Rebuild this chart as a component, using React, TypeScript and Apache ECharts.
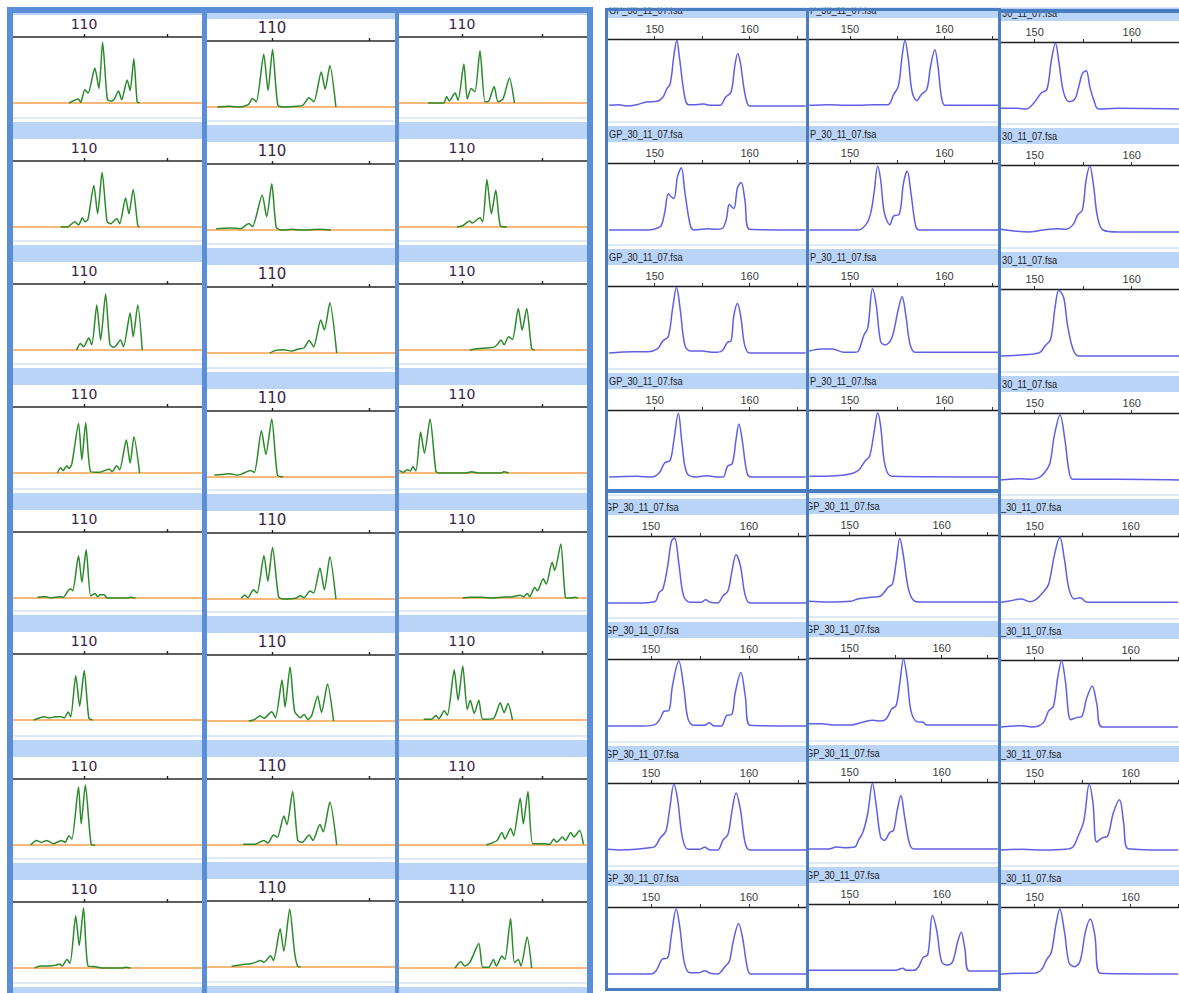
import React, { useEffect, useRef } from "react";
import * as echarts from "echarts";

// ---------- texts / ticks ----------
const fileNamesTop = ["GP_30_11_07.fsa", "P_30_11_07.fsa", "30_11_07.fsa"];
const fileNamesBottom = ["GP_30_11_07.fsa", "GP_30_11_07.fsa", "_30_11_07.fsa"];
const leftTickValues = [110, 115];
const leftLabelValues = [110];
const rightTickValues = [150, 155, 160, 165];
const rightLabelValues = [150, 160];

// ---------- green traces (size in bp, relative height %) ----------
const g11 = [[109.1,0],[109.65,6],[109.8,1],[110.05,20],[110.25,15],[110.65,53],[110.9,22],[111.12,92],[111.4,6],[111.6,3],[111.8,5],[112.08,18],[112.27,5],[112.6,35],[112.78,19],[113.0,67],[113.2,2],[113.35,0]];
const g12 = [[107.2,0],[107.8,1],[108.4,0],[108.8,4],[109.0,13],[109.2,8],[109.58,80],[109.8,25],[110.03,87],[110.3,3],[110.6,0],[111.3,1],[111.6,3],[111.9,14],[112.15,8],[112.53,53],[112.73,27],[112.97,63],[113.28,0]];
const g13 = [[107.9,0],[108.86,0],[109.05,10],[109.21,3],[109.57,15],[109.76,4],[110.12,59],[110.33,6],[110.57,22],[110.81,17],[111.12,79],[111.43,2],[111.67,3],[112.0,25],[112.24,2],[112.55,6],[112.95,38],[113.26,0]];
const g21 = [[108.6,0],[109.0,0],[109.44,8],[109.67,3],[109.9,14],[110.06,8],[110.24,12],[110.59,63],[110.82,20],[111.09,83],[111.39,8],[111.62,5],[111.97,13],[112.15,5],[112.5,44],[112.71,20],[112.96,57],[113.24,2],[113.35,0]];
const g22 = [[107.14,2],[107.8,3],[108.4,2],[108.81,10],[109.0,5],[109.5,53],[109.73,20],[109.99,70],[110.22,4],[110.48,0],[111.06,1],[111.5,0],[112.44,1],[113.03,0]];
const g23 = [[109.69,0],[110.05,2],[110.48,9],[110.64,6],[111.12,14],[111.29,8],[111.55,72],[111.83,20],[112.1,56],[112.38,2],[112.79,0]];
const g31 = [[109.55,0],[109.78,10],[109.97,5],[110.29,18],[110.47,8],[110.77,68],[111.0,15],[111.3,85],[111.56,8],[111.81,4],[112.2,15],[112.38,5],[112.78,56],[112.96,20],[113.24,68],[113.51,0]];
const g32 = [[109.89,0],[110.2,4],[110.57,5],[111.0,3],[111.36,6],[111.65,8],[111.91,19],[112.14,9],[112.5,50],[112.69,35],[112.97,76],[113.32,0]];
const g33 = [[110.5,0],[110.9,2],[111.5,3],[111.95,4],[112.19,8],[112.43,15],[112.62,8],[112.9,20],[113.14,16],[113.5,63],[113.74,30],[114.02,63],[114.33,2],[114.52,0]];
const g41 = [[108.4,0],[108.58,8],[108.74,4],[108.97,11],[109.09,7],[109.27,14],[109.67,75],[109.87,20],[110.1,76],[110.4,2],[110.93,1],[111.51,6],[111.69,2],[111.97,11],[112.15,5],[112.55,50],[112.78,15],[113.01,55],[113.35,0]];
const g42 = [[107.05,3],[107.5,4],[107.83,5],[108.2,3],[108.42,4],[108.71,8],[108.91,10],[109.1,7],[109.46,70],[109.69,34],[109.99,88],[110.28,3],[110.57,0]];
const g43 = [[106.1,4],[106.36,1],[106.6,5],[106.8,3],[106.95,10],[107.14,3],[107.43,62],[107.67,30],[108.02,82],[108.38,3],[108.57,0],[110.29,0],[110.6,2],[111.0,0],[112.43,0],[112.6,2],[112.9,0]];
const g51 = [[107.2,1],[107.5,2],[107.71,2],[108.0,0],[108.51,2],[108.75,1],[109.04,11],[109.2,14],[109.32,11],[109.67,64],[109.87,24],[110.13,73],[110.4,3],[110.66,7],[110.82,2],[110.98,5],[111.21,5],[111.39,0],[112.55,0],[112.8,1],[113.1,0]];
const g52 = [[108.42,1],[108.61,6],[108.77,2],[109.05,14],[109.24,9],[109.59,66],[109.79,27],[110.03,78],[110.34,3],[110.57,0],[111.2,1],[111.46,5],[111.65,2],[111.95,12],[112.14,9],[112.46,47],[112.69,14],[112.97,64],[113.28,0]];
const g53 = [[110.05,0],[110.5,1],[111.24,1],[112.0,0],[112.43,1],[113.14,2],[113.62,4],[113.85,2],[114.05,7],[114.21,2],[114.52,16],[114.69,11],[115.05,29],[115.24,21],[115.6,54],[115.76,42],[116.14,82],[116.43,1],[116.71,0],[117.0,1],[117.2,0]];
const g61 = [[106.97,0],[107.3,3],[107.59,5],[107.9,3],[108.28,5],[108.63,5],[108.81,3],[109.04,12],[109.2,5],[109.5,67],[109.74,21],[110.01,75],[110.29,3],[110.52,0]];
const g62 = [[108.81,0],[109.1,2],[109.4,8],[109.59,4],[109.99,14],[110.18,5],[110.52,62],[110.67,21],[110.93,82],[111.16,15],[111.46,5],[111.65,10],[111.85,2],[112.05,9],[112.34,38],[112.54,13],[112.85,56],[113.16,0]];
const g63 = [[107.62,1],[108.1,1],[108.38,7],[108.57,2],[108.9,14],[109.1,7],[109.52,76],[109.76,30],[110.05,82],[110.33,16],[110.52,30],[110.76,10],[111.05,30],[111.29,1],[111.95,2],[112.38,26],[112.62,11],[112.86,25],[113.14,0]];
const g71 = [[106.78,0],[107.13,7],[107.43,4],[107.75,7],[108.17,2],[108.63,7],[108.86,4],[109.09,14],[109.27,9],[109.67,88],[109.83,32],[110.08,91],[110.43,1],[110.66,0]];
const g72 = [[108.52,1],[109.1,1],[109.59,7],[109.79,3],[110.08,15],[110.28,12],[110.61,44],[110.77,31],[111.06,81],[111.32,7],[111.55,4],[111.91,15],[112.1,7],[112.46,31],[112.63,20],[112.97,65],[113.32,0]];
const g73 = [[111.52,0],[111.95,4],[112.19,7],[112.48,19],[112.67,9],[113.02,25],[113.21,14],[113.62,71],[113.81,32],[114.1,81],[114.4,2],[115.05,2],[115.45,1],[115.71,9],[115.88,4],[116.24,12],[116.43,7],[116.76,19],[116.95,12],[117.31,22],[117.55,1]];
const g81 = [[107.02,0],[107.36,3],[107.82,3],[108.28,4],[108.51,6],[108.68,3],[108.97,13],[109.16,7],[109.5,79],[109.71,34],[109.97,91],[110.24,3],[110.7,2],[111.05,0],[112.3,0],[112.5,1],[112.8,0]];
const g82 = [[107.93,1],[108.61,4],[108.91,5],[109.16,7],[109.4,10],[109.59,7],[109.93,17],[110.08,10],[110.42,58],[110.61,24],[110.91,88],[111.16,22],[111.32,1],[111.46,0]];
const g83 = [[109.57,0],[109.93,10],[110.17,3],[110.48,8],[111.05,37],[111.29,1],[111.67,1],[111.95,13],[112.14,3],[112.48,18],[112.67,13],[113.02,75],[113.26,8],[113.5,13],[113.67,3],[114.05,47],[114.33,0]];

// ---------- blue traces (size in bp, relative height %) ----------
const b11 = [[145.2,1],[146.19,2],[146.97,0],[148.13,2],[149.11,6],[150.27,7],[150.86,13],[151.25,25],[151.63,33],[152.02,75],[152.33,98],[152.61,72],[153.0,28],[153.3,6],[153.58,2],[154.36,2],[155.14,3],[155.91,1],[156.89,1],[157.47,13],[158.05,21],[158.44,60],[158.75,78],[159.03,64],[159.42,25],[159.75,4],[160.0,0],[165.9,0]];
const b12 = [[145.7,1],[147.77,2],[149.5,1],[150.9,1],[152.46,2],[154.02,2],[154.61,17],[155.12,30],[155.51,74],[155.82,98],[156.17,70],[156.56,22],[157.07,8],[157.54,17],[158.13,25],[158.52,59],[158.98,84],[159.3,60],[159.69,12],[160.08,1],[165.66,1]];
const b13 = [[146.5,1],[148.19,1],[149.15,0],[149.92,9],[150.69,24],[151.27,29],[151.73,73],[152.15,98],[152.5,70],[153.0,24],[153.58,11],[154.15,15],[154.54,33],[154.92,53],[155.31,57],[155.69,33],[156.08,14],[156.58,0],[158.58,1],[164.95,0]];
const b21 = [[145.2,0],[149.3,0],[150.08,2],[150.66,6],[151.05,26],[151.44,54],[151.7,50],[152.02,47],[152.41,80],[152.8,93],[153.19,55],[153.77,6],[154.16,0],[155.72,2],[156.3,1],[157.08,2],[157.55,16],[157.86,38],[158.33,32],[158.72,63],[159.11,71],[159.49,46],[160.0,1],[165.9,0]];
const b22 = [[145.7,0],[150.9,0],[151.68,8],[152.15,23],[152.54,55],[152.93,95],[153.24,75],[153.63,26],[154.22,8],[154.61,21],[155.2,23],[155.66,70],[156.05,88],[156.45,55],[156.95,6],[157.34,0],[165.66,0]];
const b23 = [[146.5,4],[148.19,1],[149.35,0],[150.88,3],[152.42,5],[153.19,4],[153.96,11],[154.42,25],[154.92,33],[155.31,78],[155.69,98],[156.08,68],[156.46,24],[157.04,3],[158.58,0],[164.95,0]];
const b31 = [[145.2,0],[147.74,2],[149.3,2],[150.27,6],[150.86,18],[151.44,25],[151.91,69],[152.3,98],[152.68,66],[153.19,11],[153.77,3],[154.94,3],[156.3,1],[157.08,3],[157.67,16],[158.05,18],[158.33,55],[158.72,74],[159.11,50],[159.49,11],[160.0,0],[165.9,0]];
const b32 = [[145.7,3],[146.99,6],[148.16,6],[149.34,1],[150.51,1],[150.9,3],[151.48,27],[151.88,37],[152.38,96],[152.77,72],[153.24,17],[153.71,12],[154.41,22],[155.12,66],[155.51,84],[155.9,57],[156.37,12],[156.95,1],[165.66,1]];
const b33 = [[146.5,0],[148.96,2],[150.5,5],[151.08,15],[151.65,25],[152.12,74],[152.5,98],[153.0,87],[153.38,47],[153.96,10],[154.54,0],[164.95,0]];
const b41 = [[145.2,0],[148.13,1],[149.69,0],[150.47,6],[151.05,21],[151.63,25],[152.02,55],[152.49,95],[152.88,50],[153.39,6],[154.36,0],[155.53,2],[156.5,0],[157.2,0],[157.67,16],[158.17,20],[158.56,55],[158.87,79],[159.22,55],[159.73,6],[160.19,0],[165.9,0]];
const b42 = [[145.7,1],[148.55,2],[150.12,5],[150.9,10],[151.6,24],[152.07,31],[152.54,66],[152.93,96],[153.24,76],[153.71,17],[154.41,1],[165.66,0]];
const b43 = [[146.5,0],[148.58,2],[149.54,1],[150.5,4],[151.08,12],[151.58,25],[152.04,67],[152.62,97],[153.12,60],[153.58,10],[153.96,1],[158.6,1],[164.95,0]];
const b51 = [[145.6,0],[148.49,0],[150.38,2],[150.83,16],[151.21,21],[151.7,55],[152.08,92],[152.4,97],[152.83,60],[153.32,11],[153.96,1],[155.09,1],[155.58,5],[156.04,1],[156.79,0],[157.36,11],[157.85,18],[158.23,45],[158.68,72],[159.13,55],[159.62,11],[160.11,0],[165.85,0]];
const b52 = [[145.5,1],[147.75,0],[150.16,1],[150.96,5],[151.77,6],[152.37,7],[153.37,9],[154.18,22],[154.66,27],[155.06,59],[155.46,95],[155.86,68],[156.39,20],[156.99,2],[157.79,0],[166.1,0]];
const b53 = [[146.5,1],[147.42,3],[148.58,6],[149.54,2],[150.12,5],[150.88,16],[151.46,28],[152.04,70],[152.62,98],[153.12,64],[153.58,21],[154.15,6],[154.73,8],[155.5,1],[164.95,1]];
const b61 = [[145.6,0],[149.25,0],[150.38,2],[150.94,11],[151.32,22],[151.81,23],[152.19,60],[152.83,97],[153.32,60],[153.77,11],[154.34,1],[155.47,1],[155.96,5],[156.42,0],[157.17,0],[157.74,16],[158.23,17],[158.6,50],[159.17,80],[159.62,45],[160.11,1],[165.85,0]];
const b62 = [[145.5,2],[146.95,2],[148.15,0],[150.16,0],[151.37,4],[152.57,7],[153.37,6],[153.98,9],[154.58,24],[155.06,29],[155.46,63],[155.86,98],[156.27,68],[156.67,21],[157.31,5],[158.0,4],[158.39,0],[166.1,0]];
const b63 = [[146.5,0],[148.58,2],[149.73,0],[150.88,6],[151.46,24],[151.96,31],[152.42,75],[152.81,99],[153.19,70],[153.77,11],[154.35,14],[154.92,16],[155.42,43],[156.0,61],[156.46,36],[157.04,0],[164.95,0]];
const b71 = [[145.6,1],[146.98,0],[148.49,1],[149.62,3],[150.38,5],[150.94,18],[151.51,28],[151.89,60],[152.34,98],[152.72,75],[153.21,18],[153.77,1],[154.91,1],[155.47,4],[156.04,0],[156.79,0],[157.36,15],[157.85,23],[158.23,55],[158.68,85],[159.13,60],[159.62,10],[160.11,0],[165.85,0]];
const b72 = [[145.5,0],[147.75,0],[148.55,3],[149.36,2],[150.56,3],[150.96,13],[151.45,25],[151.97,53],[152.49,98],[152.89,65],[153.37,18],[153.78,13],[154.38,25],[154.78,28],[155.18,58],[155.58,80],[155.98,48],[156.51,8],[156.99,0],[166.1,0]];
const b73 = [[146.5,0],[148.7,1],[151.0,0],[153.19,1],[153.96,4],[154.54,21],[155.12,43],[155.69,98],[156.08,70],[156.46,12],[157.04,18],[157.62,21],[158.19,55],[158.85,75],[159.27,41],[159.73,2],[164.95,0]];
const b81 = [[145.6,0],[150.0,0],[150.57,6],[151.13,22],[151.7,24],[152.08,58],[152.57,97],[152.94,70],[153.4,17],[153.96,2],[154.91,2],[155.47,5],[156.04,1],[156.79,0],[157.55,11],[158.0,19],[158.38,48],[158.94,75],[159.36,53],[159.81,11],[160.19,0],[165.85,0]];
const b82 = [[145.5,1],[148.0,1],[151.0,1],[154.98,1],[155.78,4],[156.18,1],[156.99,1],[157.47,6],[157.99,20],[158.51,25],[159.0,83],[159.48,60],[160.0,14],[160.6,9],[161.2,14],[161.73,43],[162.13,58],[162.53,33],[163.01,0],[166.1,0]];
const b83 = [[146.5,0],[148.58,1],[149.73,1],[150.69,6],[151.27,22],[151.73,32],[152.23,74],[152.62,97],[153.12,62],[153.58,17],[154.15,11],[154.73,19],[155.31,64],[155.81,82],[156.27,58],[156.85,1],[164.95,0]];

const greenRows = [
  [g11, g12, g13], [g21, g22, g23], [g31, g32, g33], [g41, g42, g43],
  [g51, g52, g53], [g61, g62, g63], [g71, g72, g73], [g81, g82, g83],
];
const blueRows = [
  [b11, b12, b13], [b21, b22, b23], [b31, b32, b33], [b41, b42, b43],
  [b51, b52, b53], [b61, b62, b63], [b71, b72, b73], [b81, b82, b83],
];

// ---------- layout (pixels) ----------
const L_COLS = [
  { x0: 13, x1: 202, min: 105.72, max: 117.11, font: 14 },
  { x0: 207, x1: 395, min: 106.67, max: 116.31, font: 15 },
  { x0: 399, x1: 588, min: 106.09, max: 117.83, font: 14 },
];
const L_AXIS_Y = [
  [37, 161, 284, 407, 532, 654, 779, 902],
  [41, 164, 287, 411, 533, 655, 779, 901],
  [37, 161, 284, 407, 532, 654, 779, 902],
];
const R_COLS_TOP = [
  { x0: 608, x1: 806, min: 145.08, max: 165.94, tx: 609 },
  { x0: 809, x1: 998, min: 145.66, max: 165.66, tx: 810 },
  { x0: 1001, x1: 1179, min: 146.54, max: 164.87, tx: 1002 },
];
const R_COLS_BOT = [
  { x0: 608, x1: 806, min: 145.61, max: 165.82, tx: 605 },
  { x0: 809, x1: 998, min: 145.59, max: 166.13, tx: 806 },
  { x0: 1001, x1: 1179, min: 146.5, max: 165.04, tx: 1001 },
];
const R_AXIS_Y = [
  [39, 163, 286, 410, 536, 659, 783, 907],
  [39, 163, 286, 410, 535, 658, 782, 904],
  [42, 165, 289, 413, 536, 660, 783, 907],
];

const BAND = "#bad4f7";
const SEP = "#d6e3f3";
const NARROW = '"Liberation Sans Narrow", "Arial Narrow", "Liberation Sans", Arial, sans-serif';

function buildOption() {
  const grid: any[] = [];
  const xAxis: any[] = [];
  const yAxis: any[] = [];
  const series: any[] = [];
  const graphic: any[] = [];
  let idx = 0;

  // left (green) panels
  for (let r = 0; r < 8; r++) {
    for (let c = 0; c < 3; c++) {
      const col = L_COLS[c];
      const ay = L_AXIS_Y[c][r];
      const w = col.x1 - col.x0;
      grid.push({ left: col.x0, top: ay, width: w, height: 82.5, containLabel: false });
      xAxis.push({
        gridIndex: idx, type: "value", position: "top", min: col.min, max: col.max,
        axisLine: { show: true, onZero: false, lineStyle: { color: "#2a2a2a", width: 1.6 } },
        axisTick: { show: true, customValues: leftTickValues, length: 3, lineStyle: { color: "#222", width: 1.4 } },
        axisLabel: { show: true, customValues: leftLabelValues, margin: 6, color: "#3a2342", fontSize: col.font, fontFamily: "DejaVu Sans, Verdana, sans-serif" },
        splitLine: { show: false },
      });
      yAxis.push({ gridIndex: idx, type: "value", min: -25, max: 100, show: false });
      series.push({
        type: "line", xAxisIndex: idx, yAxisIndex: idx, data: greenRows[r][c],
        showSymbol: false, smooth: 0.22, z: 3,
        lineStyle: { color: "#2a8a2a", width: 1.5 },
      });
      series.push({
        type: "line", xAxisIndex: idx, yAxisIndex: idx, data: [[col.min, 0], [col.max, 0]],
        showSymbol: false, z: 2,
        lineStyle: { color: "#f4a04e", width: 1.6 },
      });
      graphic.push({ type: "rect", z: 0, silent: true, shape: { x: col.x0, y: ay - 39, width: w, height: 17 }, style: { fill: BAND } });
      graphic.push({ type: "line", z: 0, silent: true, shape: { x1: col.x0, y1: ay - 43, x2: col.x1, y2: ay - 43 }, style: { stroke: SEP, lineWidth: 1.5 } });
      if (r === 7) {
        const ny = ay + 124;
        graphic.push({ type: "rect", z: 0, silent: true, shape: { x: col.x0, y: ny - 39, width: w, height: 17 }, style: { fill: BAND } });
        graphic.push({ type: "line", z: 0, silent: true, shape: { x1: col.x0, y1: ny - 43, x2: col.x1, y2: ny - 43 }, style: { stroke: SEP, lineWidth: 1.5 } });
      }
      idx++;
    }
  }

  // right (blue) panels
  for (let r = 0; r < 8; r++) {
    for (let c = 0; c < 3; c++) {
      const col = r < 4 ? R_COLS_TOP[c] : R_COLS_BOT[c];
      const ay = R_AXIS_Y[c][r];
      const w = col.x1 - col.x0;
      grid.push({ left: col.x0, top: ay, width: w, height: 83.75, containLabel: false });
      xAxis.push({
        gridIndex: idx, type: "value", position: "top", min: col.min, max: col.max,
        axisLine: { show: true, onZero: false, lineStyle: { color: "#1e1e1e", width: 1.4 } },
        axisTick: { show: true, customValues: rightTickValues, length: 3, lineStyle: { color: "#333", width: 1 } },
        axisLabel: { show: true, customValues: rightLabelValues, margin: 5, color: "#3a3a3a", fontSize: 11, fontFamily: NARROW },
        splitLine: { show: false },
      });
      yAxis.push({ gridIndex: idx, type: "value", min: -25, max: 100, show: false });
      series.push({
        type: "line", xAxisIndex: idx, yAxisIndex: idx, data: blueRows[r][c],
        showSymbol: false, smooth: 0.35, z: 3,
        lineStyle: { color: "#5f5fe6", width: 1.5 },
      });
      graphic.push({ type: "rect", z: 0, silent: true, shape: { x: col.x0 - 1, y: ay - 37, width: w + 2, height: 16 }, style: { fill: BAND } });
      graphic.push({ type: "line", z: 0, silent: true, shape: { x1: col.x0, y1: ay - 41, x2: col.x1, y2: ay - 41 }, style: { stroke: SEP, lineWidth: 1.5 } });
      const names = r < 4 ? fileNamesTop : fileNamesBottom;
      graphic.push({
        type: "text", z: 10, silent: true, x: col.tx, y: ay - 29, scaleX: 0.84, scaleY: 1,
        style: { text: names[c], fill: "#1a1a1a", font: "11px " + NARROW, textAlign: "left", textVerticalAlign: "middle" },
      });
      idx++;
    }
  }

  // white mask above the frames and in the gap between the two halves
  graphic.push({ type: "rect", z: 40, silent: true, shape: { x: 0, y: 0, width: 1179, height: 7.5 }, style: { fill: "#ffffff" } });
  graphic.push({ type: "rect", z: 40, silent: true, shape: { x: 593, y: 0, width: 11, height: 993 }, style: { fill: "#ffffff" } });

  // left frame
  const LF = "#5b8ed8";
  graphic.push({ type: "rect", z: 50, silent: true, shape: { x: 10, y: 10, width: 580, height: 1000 }, style: { fill: "none", stroke: LF, lineWidth: 6 } });
  graphic.push({ type: "line", z: 50, silent: true, shape: { x1: 204.5, y1: 8, x2: 204.5, y2: 993 }, style: { stroke: LF, lineWidth: 5 } });
  graphic.push({ type: "line", z: 50, silent: true, shape: { x1: 397, y1: 8, x2: 397, y2: 993 }, style: { stroke: LF, lineWidth: 4 } });

  // right frames
  const RF = "#4a7dbf";
  graphic.push({ type: "rect", z: 50, silent: true, shape: { x: 606.5, y: 9.5, width: 201, height: 481 }, style: { fill: "none", stroke: RF, lineWidth: 3 } });
  graphic.push({ type: "rect", z: 50, silent: true, shape: { x: 807.5, y: 9.5, width: 192, height: 481 }, style: { fill: "none", stroke: RF, lineWidth: 3 } });
  graphic.push({ type: "line", z: 50, silent: true, shape: { x1: 999.5, y1: 11, x2: 1179, y2: 11 }, style: { stroke: RF, lineWidth: 4 } });
  graphic.push({ type: "rect", z: 50, silent: true, shape: { x: 606.5, y: 491.5, width: 201, height: 498 }, style: { fill: "none", stroke: RF, lineWidth: 3 } });
  graphic.push({ type: "rect", z: 50, silent: true, shape: { x: 807.5, y: 491.5, width: 192, height: 498 }, style: { fill: "none", stroke: RF, lineWidth: 3 } });

  return {
    animation: false,
    backgroundColor: "#ffffff",
    grid, xAxis, yAxis, series, graphic,
  };
}

export default function App() {
  const ref = useRef<HTMLDivElement>(null);
  useEffect(() => {
    document.body.style.margin = "0";
    document.body.style.overflow = "hidden";
    if (!ref.current) return;
    const chart = echarts.init(ref.current, undefined, { renderer: "svg" });
    chart.setOption(buildOption() as any);
    return () => chart.dispose();
  }, []);
  return <div ref={ref} style={{ width: 1179, height: 993 }} />;
}
